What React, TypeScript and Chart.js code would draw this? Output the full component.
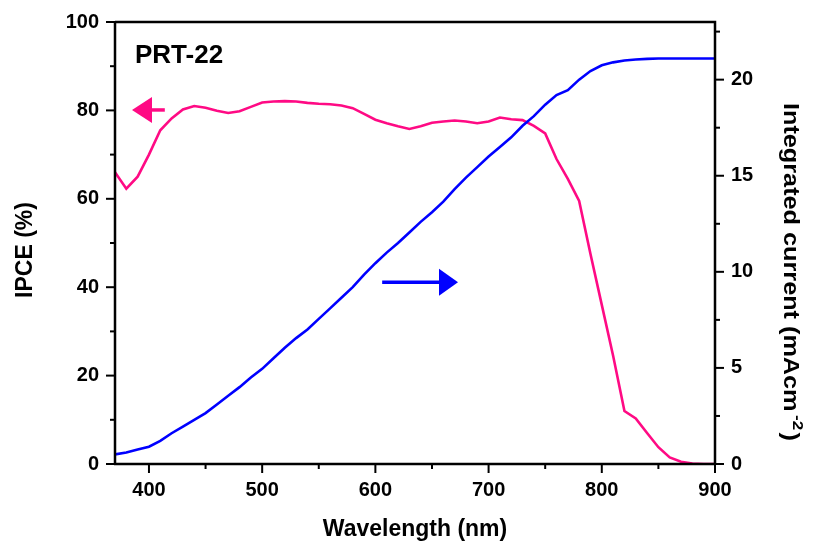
import React, { useEffect, useRef } from "react";
import { Chart, registerables } from "chart.js";

Chart.register(...registerables);

const wavelengths = [
  370, 380, 390, 400, 410, 420, 430, 440, 450, 460, 470, 480, 490, 500, 510, 520, 530, 540,
  550, 560, 570, 580, 590, 600, 610, 620, 630, 640, 650, 660, 670, 680, 690, 700, 710, 720,
  730, 740, 750, 760, 770, 780, 790, 800, 810, 820, 830, 840, 850, 860, 870, 880, 890, 900,
];

const ipceValues = [
  66, 62.3, 65, 70, 75.5, 78.2, 80.2, 81, 80.6, 79.9, 79.4, 79.8, 80.8, 81.8, 82, 82.1, 82, 81.7,
  81.5, 81.4, 81.1, 80.5, 79.2, 77.9, 77.1, 76.4, 75.8, 76.4, 77.2, 77.5, 77.7, 77.5, 77.1, 77.5,
  78.4, 78.0, 77.8, 76.5, 74.8, 69, 64.5, 59.5, 47.5, 36, 24.5, 12, 10.3, 7, 3.8, 1.5, 0.5, 0.1,
  0, 0,
];

const currentValues = [
  0.5, 0.6, 0.75, 0.9, 1.2, 1.6, 1.95, 2.3, 2.65, 3.1, 3.55, 4.0, 4.5, 4.95, 5.5, 6.05, 6.55, 7.0,
  7.55, 8.1, 8.65, 9.2, 9.85, 10.45, 11.0, 11.5, 12.05, 12.6, 13.1, 13.65, 14.3, 14.9, 15.45,
  16.0, 16.5, 17.0, 17.6, 18.1, 18.7, 19.2, 19.45, 20.0, 20.45, 20.75, 20.9, 21.0, 21.05, 21.08,
  21.1, 21.1, 21.1, 21.1, 21.1, 21.1,
];

const xMajorTicks = [400, 500, 600, 700, 800, 900];
const xMinorTicks = [450, 550, 650, 750, 850];
const leftMajorTicks = [0, 20, 40, 60, 80, 100];
const leftMinorTicks = [10, 30, 50, 70, 90];
const rightMajorTicks = [0, 5, 10, 15, 20];
const rightMinorTicks = [2.5, 7.5, 12.5, 17.5, 22.5];

const sampleName = "PRT-22";
const xTitle = "Wavelength (nm)";
const leftTitle = "IPCE (%)";
const rightTitleMain = "Integrated current (mAcm";
const rightTitleSup = "-2";
const rightTitleEnd = ")";

// arrows in data coordinates: [tailX, tipX, y]
const ipceArrow = [414, 385, 80.1];
const currentArrow = [606, 673, 9.46];

const PINK = "#ff0a84";
const BLUE = "#0000ff";
const FONT = "'Liberation Sans', Arial, sans-serif";

const decorPlugin = {
  id: "decor",
  afterDatasetsDraw(chart: any) {
    const { ctx, chartArea, scales } = chart;
    const { left, right, top, bottom } = chartArea;
    const sx = scales.x;
    const sy = scales.y;
    const sy1 = scales.y1;
    ctx.save();
    ctx.strokeStyle = "#000";
    ctx.lineCap = "butt";

    // ticks
    ctx.lineWidth = 2;
    const major = 9;
    const minor = 5;
    const drawH = (vals: number[], len: number) => {
      vals.forEach((v) => {
        const px = sx.getPixelForValue(v);
        ctx.beginPath();
        ctx.moveTo(px, bottom);
        ctx.lineTo(px, bottom + len);
        ctx.stroke();
      });
    };
    drawH(xMajorTicks, major);
    drawH(xMinorTicks, minor);
    const drawL = (vals: number[], len: number) => {
      vals.forEach((v) => {
        const py = sy.getPixelForValue(v);
        ctx.beginPath();
        ctx.moveTo(left, py);
        ctx.lineTo(left - len, py);
        ctx.stroke();
      });
    };
    drawL(leftMajorTicks, major);
    drawL(leftMinorTicks, minor);
    const drawR = (vals: number[], len: number) => {
      vals.forEach((v) => {
        const py = sy1.getPixelForValue(v);
        ctx.beginPath();
        ctx.moveTo(right, py);
        ctx.lineTo(right + len, py);
        ctx.stroke();
      });
    };
    drawR(rightMajorTicks, major);
    drawR(rightMinorTicks, minor);

    // frame
    ctx.lineWidth = 2.5;
    ctx.beginPath();
    ctx.moveTo(left, top);
    ctx.lineTo(right, top);
    ctx.lineTo(right, bottom + 1);
    ctx.moveTo(left, top - 1);
    ctx.lineTo(left, bottom + 1);
    ctx.moveTo(left - 1, bottom);
    ctx.lineTo(right + 1, bottom);
    ctx.stroke();

    // arrows
    const arrow = (
      x0: number,
      x1: number,
      y: number,
      color: string,
      headLen: number,
      headHalf: number
    ) => {
      const dir = Math.sign(x1 - x0);
      ctx.strokeStyle = color;
      ctx.fillStyle = color;
      ctx.lineWidth = 3.5;
      ctx.beginPath();
      ctx.moveTo(x0, y);
      ctx.lineTo(x1 - dir * headLen, y);
      ctx.stroke();
      ctx.beginPath();
      ctx.moveTo(x1, y);
      ctx.lineTo(x1 - dir * headLen, y - headHalf);
      ctx.lineTo(x1 - dir * headLen, y + headHalf);
      ctx.closePath();
      ctx.fill();
    };
    arrow(
      sx.getPixelForValue(ipceArrow[0]),
      sx.getPixelForValue(ipceArrow[1]),
      sy.getPixelForValue(ipceArrow[2]),
      PINK,
      20,
      13
    );
    arrow(
      sx.getPixelForValue(currentArrow[0]),
      sx.getPixelForValue(currentArrow[1]),
      sy1.getPixelForValue(currentArrow[2]),
      BLUE,
      19,
      13.5
    );

    // texts
    ctx.fillStyle = "#000";
    ctx.textBaseline = "alphabetic";
    ctx.font = `bold 26px ${FONT}`;
    ctx.textAlign = "left";
    ctx.fillText(sampleName, left + 20, top + 41);

    ctx.font = `bold 23px ${FONT}`;
    ctx.textAlign = "center";
    ctx.fillText(xTitle, (left + right) / 2, 536);

    ctx.save();
    ctx.translate(31.5, 250);
    ctx.rotate(-Math.PI / 2);
    ctx.font = `bold 23px ${FONT}`;
    ctx.textAlign = "center";
    ctx.fillText(leftTitle, 0, 0);
    ctx.restore();

    // right title with superscript
    ctx.save();
    ctx.translate(784, 103);
    ctx.rotate(Math.PI / 2);
    ctx.textAlign = "left";
    ctx.font = `bold 22px ${FONT}`;
    const wMain = ctx.measureText(rightTitleMain).width;
    const wEnd = ctx.measureText(rightTitleEnd).width;
    ctx.font = `bold 15px ${FONT}`;
    const wSup = ctx.measureText(rightTitleSup).width;
    const total = wMain + 3 + wSup + 2 + wEnd;
    const scale = 338 / total;
    ctx.scale(scale, 1);
    ctx.font = `bold 22px ${FONT}`;
    ctx.fillText(rightTitleMain, 0, 0);
    ctx.font = `bold 15px ${FONT}`;
    ctx.fillText(rightTitleSup, wMain + 3, -9);
    ctx.font = `bold 22px ${FONT}`;
    ctx.fillText(rightTitleEnd, wMain + 3 + wSup + 2, 0);
    ctx.restore();

    ctx.restore();
  },
};

export default function App() {
  const canvasRef = useRef<HTMLCanvasElement | null>(null);

  useEffect(() => {
    if (!canvasRef.current) return;
    const tickFont = { family: FONT, size: 20, weight: "bold" as const };
    const chart = new Chart(canvasRef.current, {
      type: "line",
      data: {
        datasets: [
          {
            label: "Integrated current",
            data: wavelengths.map((w, i) => ({ x: w, y: currentValues[i] })),
            borderColor: BLUE,
            borderWidth: 2.6,
            pointRadius: 0,
            tension: 0,
            yAxisID: "y1",
            order: 0,
          },
          {
            label: "IPCE",
            data: wavelengths.map((w, i) => ({ x: w, y: ipceValues[i] })),
            borderColor: PINK,
            borderWidth: 2.6,
            pointRadius: 0,
            tension: 0,
            yAxisID: "y",
            order: 1,
          },
        ],
      },
      options: {
        animation: false,
        responsive: true,
        maintainAspectRatio: false,
        layout: { padding: { top: 22, left: 0, right: 0, bottom: 0 } },
        plugins: { legend: { display: false }, tooltip: { enabled: false } },
        scales: {
          x: {
            type: "linear",
            position: "bottom",
            min: 370,
            max: 900,
            grid: { display: false, drawTicks: false },
            border: { display: false },
            ticks: { color: "#000", font: tickFont, padding: 14, maxRotation: 0 },
            afterBuildTicks: (s: any) => {
              s.ticks = xMajorTicks.map((v) => ({ value: v }));
            },
            afterFit: (s: any) => {
              s.height = 81;
              s.paddingLeft = 0;
              s.paddingRight = 0;
            },
          },
          y: {
            type: "linear",
            position: "left",
            min: 0,
            max: 100,
            grid: { display: false, drawTicks: false },
            border: { display: false },
            ticks: { color: "#000", font: tickFont, padding: 16 },
            afterBuildTicks: (s: any) => {
              s.ticks = leftMajorTicks.map((v) => ({ value: v }));
            },
            afterFit: (s: any) => {
              s.width = 115;
              s.paddingTop = 0;
              s.paddingBottom = 0;
            },
          },
          y1: {
            type: "linear",
            position: "right",
            min: 0,
            max: 23,
            grid: { display: false, drawTicks: false },
            border: { display: false },
            ticks: { color: "#000", font: tickFont, padding: 16 },
            afterBuildTicks: (s: any) => {
              s.ticks = rightMajorTicks.map((v) => ({ value: v }));
            },
            afterFit: (s: any) => {
              s.width = 105;
              s.paddingTop = 0;
              s.paddingBottom = 0;
            },
          },
        },
      },
      plugins: [decorPlugin],
    });
    return () => chart.destroy();
  }, []);

  return (
    <div
      style={{
        position: "absolute",
        left: 0,
        top: 0,
        width: 820,
        height: 545,
        background: "#fff",
      }}
    >
      <canvas ref={canvasRef} />
    </div>
  );
}
